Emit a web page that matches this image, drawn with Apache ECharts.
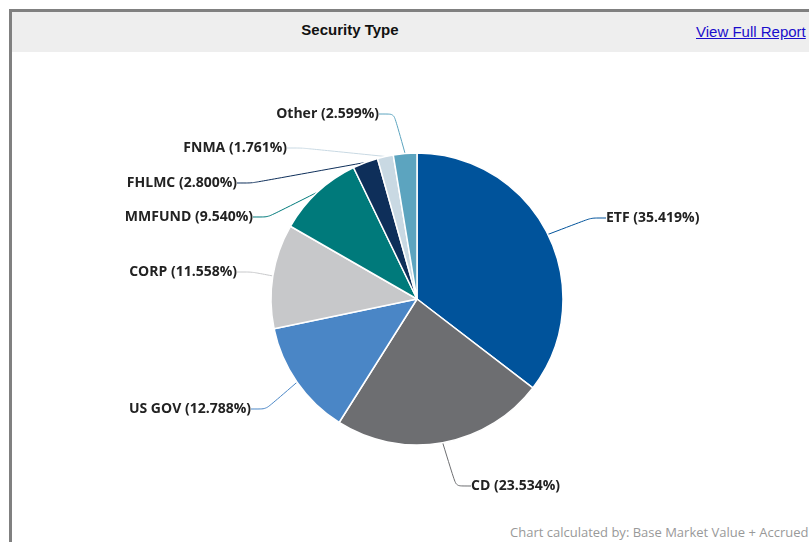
<!DOCTYPE html>
<html>
<head>
<meta charset="utf-8">
<script src="https://cdn.jsdelivr.net/npm/echarts@6/dist/echarts.min.js"></script>
<style>
  html, body { margin: 0; padding: 0; width: 809px; height: 542px; overflow: hidden; background: #ffffff; }
  #frame { position: absolute; left: 9px; top: 9px; width: 820px; height: 560px; border-left: 3px solid #808080; border-top: 3px solid #808080; box-sizing: border-box; }
  #header { position: absolute; left: 12px; top: 12px; width: 800px; height: 40px; background: #eeeeee; }
  #title { position: absolute; left: 12px; top: 11px; width: 676px; height: 38px; line-height: 38px; text-align: center; font-family: "Liberation Sans", Arial, sans-serif; font-weight: bold; font-size: 15px; color: #111; }
  #link { position: absolute; left: 696px; top: 23px; font-family: "Liberation Sans", Arial, sans-serif; font-size: 15px; color: #1a0dcc; text-decoration: underline; white-space: nowrap; }
  #footer { position: absolute; left: 510px; top: 523px; font-family: "Open Sans", sans-serif; font-size: 13px; color: #999999; white-space: nowrap; }
  #chart { position: absolute; left: 0; top: 0; width: 809px; height: 542px; }
</style>
</head>
<body>
<div id="frame"></div>
<div id="header"></div>
<div id="title">Security Type</div>
<div id="link">View Full Report</div>
<div id="footer">Chart calculated by: Base Market Value + Accrued</div>
<div id="chart"></div>
<script>
// ---- data ----
const categories = ['ETF', 'CD', 'US GOV', 'CORP', 'MMFUND', 'FHLMC', 'FNMA', 'Other'];
const percents = [35.419, 23.534, 12.788, 11.558, 9.540, 2.800, 1.761, 2.599];
const sliceColors = ['#00539b', '#6d6e71', '#4a86c6', '#c7c8ca', '#007a7b', '#0e2f5a', '#c9d9e3', '#5ca4bf'];

// label anchor placement (text position, not mark geometry)
const labelAnchors = [
  { x: 606, y: 218, align: 'left' },
  { x: 471, y: 486, align: 'left' },
  { x: 251, y: 409, align: 'right' },
  { x: 237, y: 272, align: 'right' },
  { x: 253, y: 217, align: 'right' },
  { x: 237, y: 183, align: 'right' },
  { x: 287, y: 148, align: 'right' },
  { x: 379, y: 114, align: 'right' }
];

const chart = echarts.init(document.getElementById('chart'), null, { renderer: 'canvas' });
const seriesData = categories.map((c, i) => ({
  name: c,
  value: percents[i],
  itemStyle: { color: sliceColors[i] },
  labelLine: { lineStyle: { color: sliceColors[i] } }
}));

chart.setOption({
  animation: false,
  backgroundColor: 'transparent',
  series: [{
    type: 'pie',
    center: [417, 299],
    radius: 146,
    startAngle: 90,
    clockwise: true,
    avoidLabelOverlap: false,
    data: seriesData,
    itemStyle: { borderColor: '#ffffff', borderWidth: 1.5 },
    label: {
      show: true,
      position: 'outside',
      formatter: p => p.name + ' (' + p.value.toFixed(3) + '%)',
      fontFamily: 'Open Sans',
      fontWeight: 'bold',
      fontSize: 14,
      color: '#222222'
    },
    labelLine: {
      show: true,
      length: 20,
      length2: 15,
      smooth: 0.2,
      lineStyle: { width: 1 }
    },
    labelLayout: function (params) {
      const a = labelAnchors[params.dataIndex];
      return { x: a.x, y: a.y, align: a.align, verticalAlign: 'middle' };
    },
    emphasis: { disabled: true }
  }]
});
</script>
</body>
</html>
